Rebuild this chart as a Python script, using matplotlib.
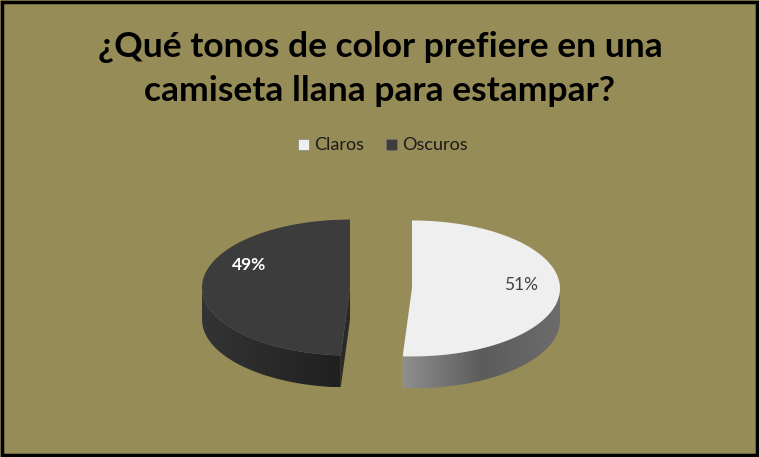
import numpy as np
import matplotlib
matplotlib.use("Agg")
import matplotlib.pyplot as plt
import matplotlib.patches as mpatches
from matplotlib.colors import LinearSegmentedColormap

# Data
categories = ["Claros", "Oscuros"]
values = [51, 49]
labels = ["51%", "49%"]

TITLE_LINES = ["¿Qué tonos de color prefiere en una", "camiseta llana para estampar?"]

# Colours
BG = "#968C57"
TOP_COLORS = ["#EFEFEF", "#3C3C3C"]
SIDE_COLORS = ["#9A9A9A", "#2A2A2A"]
WALL_GRADIENTS = [["#8E8E8E", "#5C5C5C", "#6C6C6C"], ["#343434", "#2A2A2A", "#202020"]]
LABEL_COLORS = ["#404040", "#FFFFFF"]
LABEL_WEIGHTS = ["normal", "bold"]

# Pie geometry (pixels)
W, H = 759, 457
CX, CY = 381, 288
RX, RY = 148, 68
DEPTH = 32
EXPLODE = 31


def pt(theta, cx, cy, dz=0.0):
    t = np.radians(theta)
    return cx + RX * np.cos(t), cy - RY * np.sin(t) + dz


fig = plt.figure(figsize=(W / 100, H / 100), dpi=100, facecolor=BG)
ax = fig.add_axes([0, 0, 1, 1])
ax.set_xlim(0, W)
ax.set_ylim(H, 0)
ax.axis("off")
ax.set_facecolor(BG)

# outer frame
ax.add_patch(mpatches.Rectangle((1.5, 1.5), W - 4, H - 4, fill=False,
                                edgecolor="black", linewidth=2.5, zorder=10))

# ---- 3D pie ----
angles = np.array(values) / sum(values) * 360
start = 90.0
for i, (cat, ang) in enumerate(zip(categories, angles)):
    # clockwise from 12 o'clock
    a1, a0 = start, start - ang
    start = a0
    mid = np.radians((a0 + a1) / 2)
    cx = CX + EXPLODE * np.cos(mid)
    cy = CY - EXPLODE * RY / RX * np.sin(mid)

    # radial side faces
    for a in (a0, a1):
        ex, ey = pt(a, cx, cy)
        face = [(cx, cy), (ex, ey), (ex, ey + DEPTH), (cx, cy + DEPTH)]
        ax.add_patch(mpatches.Polygon(face, closed=True, facecolor=SIDE_COLORS[i],
                                      edgecolor="none", zorder=2))

    # outer curved wall: only the front half (sin < 0), gradient filled
    lo = a0 % 360
    hi = lo + ang
    for base in (-360, 0, 360):
        s = max(lo + base, 180)
        e = min(hi + base, 360)
        if e <= s:
            continue
        th = np.linspace(s, e, 120)
        tx, ty = pt(th, cx, cy)
        wall = list(zip(tx, ty)) + list(zip(tx[::-1], ty[::-1] + DEPTH))
        poly = mpatches.Polygon(wall, closed=True, facecolor="none",
                                edgecolor="none", zorder=3)
        ax.add_patch(poly)
        cmap = LinearSegmentedColormap.from_list("w%d" % i, WALL_GRADIENTS[i])
        grad = np.linspace(0, 1, 256).reshape(1, -1)
        im = ax.imshow(grad, cmap=cmap, aspect="auto", zorder=3,
                       extent=(tx.min(), tx.max(), ty.max() + DEPTH, ty.min()))
        im.set_clip_path(poly)

    # top face
    th = np.linspace(a0, a1, 200)
    xs, ys = pt(th, cx, cy)
    top = [(cx, cy)] + list(zip(xs, ys))
    ax.add_patch(mpatches.Polygon(top, closed=True, facecolor=TOP_COLORS[i],
                                  edgecolor="none", zorder=4))

    # data label
    lx, ly = cx + 0.74 * RX * np.cos(mid), cy - 0.5 * RY * np.sin(mid) - 5
    if i == 1:
        lx, ly = cx - 0.68 * RX, cy - 23
    ax.text(lx, ly, labels[i], ha="center", va="center", fontsize=12.5,
            family="Lato", color=LABEL_COLORS[i], fontweight=LABEL_WEIGHTS[i], zorder=5)

ax.set_xlim(0, W)
ax.set_ylim(H, 0)

# ---- title ----
for line, y in zip(TITLE_LINES, [47, 91]):
    ax.text(380, y, line, ha="center", va="center", fontsize=25.5, family="Lato",
            fontweight="bold", color="black")

# ---- legend ----
leg_x = [298, 386]
for i, cat in enumerate(categories):
    ax.add_patch(mpatches.Rectangle((leg_x[i], 139), 11, 11, facecolor=TOP_COLORS[i],
                                    edgecolor="#777777", linewidth=0.4))
    ax.text(leg_x[i] + 16, 144.5, cat, ha="left", va="center", fontsize=13,
            family="Lato", color="#1A1A1A")

fig.savefig("out.png", dpi=100, facecolor=BG)
